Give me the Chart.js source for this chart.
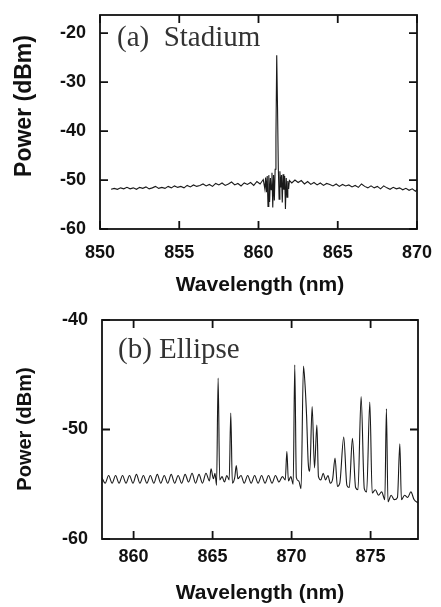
<!DOCTYPE html>
<html lang="en">
<head>
<meta charset="UTF-8">
<title>Stadium / Ellipse lasing spectra</title>
<style>
  body { margin: 0; background: #fff; }
  .panel { position: absolute; left: 0; width: 441px; }
</style>
</head>
<body>
<div class="panel" style="top:0;height:300px"><canvas id="chartA"></canvas></div>
<div class="panel" style="top:300px;height:307px"><canvas id="chartB"></canvas></div>

<script src="https://cdn.jsdelivr.net/npm/chart.js@4.4.0/dist/chart.umd.min.js"></script>
<script>
// (a) Stadium - wavelength (nm) / power (dBm)
const stadiumNm = [
  850.7, 850.9, 851.1, 851.3, 851.5, 851.7, 851.9, 852.1, 852.3, 852.5,
  852.7, 852.9, 853.1, 853.3, 853.5, 853.7, 853.9, 854.1, 854.3, 854.5,
  854.7, 854.9, 855.1, 855.3, 855.5, 855.7, 855.9, 856.1, 856.3, 856.5,
  856.7, 856.9, 857.1, 857.3, 857.5, 857.7, 857.9, 858.1, 858.3, 858.5,
  858.7, 858.9, 859.1, 859.3, 859.5, 859.7, 859.9, 860.1, 860.3,
  860.4, 860.45, 860.5, 860.55, 860.6, 860.65, 860.7, 860.75, 860.8, 860.85,
  860.9, 860.95, 861.0, 861.05, 861.1, 861.15, 861.2, 861.25, 861.3, 861.35,
  861.4, 861.45, 861.5, 861.55, 861.6, 861.65, 861.7, 861.75, 861.8, 861.85,
  861.9, 861.95,
  862.1, 862.3, 862.5, 862.7, 862.9, 863.1, 863.3, 863.5, 863.7, 863.9,
  864.1, 864.3, 864.5, 864.7, 864.9, 865.1, 865.3, 865.5, 865.7, 865.9,
  866.1, 866.3, 866.5, 866.7, 866.9, 867.1, 867.3, 867.5, 867.7, 867.9,
  868.1, 868.3, 868.5, 868.7, 868.9, 869.1, 869.3, 869.5, 869.7, 869.9, 870.0
];
const stadiumDbm = [
  -51.9, -51.7, -51.9, -51.6, -51.8, -51.5, -51.8, -51.6, -51.9, -51.5,
  -51.7, -51.4, -51.8, -51.6, -51.3, -51.7, -51.5, -51.7, -51.3, -51.6,
  -51.2, -51.5, -51.3, -51.6, -51.1, -51.4, -51.0, -51.3, -51.1, -50.8,
  -51.2, -50.9, -51.3, -50.7, -51.0, -50.6, -51.1, -50.8, -50.4, -51.0,
  -50.7, -51.2, -50.6, -50.9, -50.5, -51.1, -50.3, -50.8, -49.9,
  -51.8, -49.5, -52.5, -49.2, -55.4, -49.0, -54.5, -49.6, -52.0, -48.5,
  -55.6, -49.0, -54.2, -47.8, -41.2, -24.5, -35.1, -47.5, -53.9, -48.2,
  -51.5, -49.0, -54.6, -48.8, -52.0, -49.2, -55.9, -49.6, -53.5, -50.2,
  -51.8, -50.1,
  -50.6, -50.0, -50.5, -50.1, -50.8, -50.3, -50.9, -50.5, -51.0, -50.6,
  -51.1, -50.7, -50.9, -51.2, -50.8, -51.3, -50.9, -51.2, -51.0, -51.4,
  -51.1, -51.5, -50.8, -51.3, -51.6, -51.2, -51.6, -51.3, -51.8, -51.2,
  -51.6, -51.9, -51.5, -51.8, -51.6, -52.0, -51.7, -52.1, -51.8, -52.3, -51.9
];
const stadiumXTicks = [850, 855, 860, 865, 870];
const stadiumYTicks = [-60, -50, -40, -30, -20];

// (b) Ellipse
const ellipseNm = [
  858.0, 858.2, 858.42, 858.64, 858.86, 859.08, 859.3, 859.52, 859.74, 859.96,
  860.18, 860.4, 860.62, 860.84, 861.06, 861.28, 861.5, 861.72, 861.94, 862.16,
  862.38, 862.6, 862.82, 863.04, 863.26, 863.48, 863.7, 863.92, 864.14, 864.36,
  864.58, 864.8, 864.9, 865.05, 865.15, 865.25, 865.35, 865.45, 865.6, 865.75,
  865.9, 866.05, 866.15, 866.25, 866.4, 866.5, 866.6, 866.8, 867.0, 867.22,
  867.44, 867.66, 867.88, 868.1, 868.32, 868.54, 868.76, 868.98, 869.2, 869.42,
  869.6, 869.7, 869.8, 869.95, 870.1, 870.2, 870.3, 870.45, 870.6, 870.75,
  870.85, 870.95, 871.05, 871.15, 871.3, 871.45, 871.6, 871.7, 871.85, 872.0,
  872.15, 872.3, 872.45, 872.6, 872.75, 872.9, 873.05, 873.3, 873.5, 873.65,
  873.85, 874.05, 874.2, 874.4, 874.6, 874.75, 874.95, 875.1, 875.3, 875.5,
  875.7, 875.9, 876.0, 876.1, 876.3, 876.5, 876.7, 876.85, 876.95, 877.15,
  877.35, 877.55, 877.75, 878.0
];
const ellipseDbm = [
  -54.4, -54.9, -54.2, -54.9, -54.2, -54.9, -54.2, -54.9, -54.2, -54.9,
  -54.1, -54.9, -54.2, -54.9, -54.2, -54.9, -54.1, -54.9, -54.2, -54.9,
  -54.1, -54.9, -54.2, -54.9, -54.1, -54.8, -54.0, -54.9, -54.1, -54.9,
  -54.0, -54.7, -53.6, -54.5, -54.0, -55.1, -45.3, -54.6, -54.3, -54.8,
  -54.2, -54.6, -48.5, -54.9, -54.4, -53.3, -54.5, -54.2, -54.9, -54.2,
  -54.9, -54.2, -54.9, -54.2, -54.9, -54.2, -54.9, -54.2, -54.8, -54.3,
  -54.6, -52.0, -54.7, -54.3, -55.0, -44.1, -54.4, -54.7, -55.4, -44.2,
  -45.9, -48.8, -53.0, -53.8, -47.9, -53.5, -49.6, -54.3, -54.6, -54.0,
  -54.6, -54.2, -54.9, -54.5, -52.6, -55.2, -54.9, -50.7, -55.1, -55.3,
  -50.8, -55.3, -55.5, -47.0, -55.4, -55.7, -47.5, -55.8, -55.5, -56.0,
  -55.7, -56.4, -48.1, -56.6, -56.0, -56.4, -56.2, -51.3, -56.4, -56.0,
  -56.2, -55.7, -56.4, -56.7
];
const ellipseXTicks = [860, 865, 870, 875];
const ellipseYTicks = [-60, -50, -40];

const tickFont = { family: 'Liberation Sans, Arial, sans-serif', size: 18, weight: 'bold' };

// box round the plot, inward tick marks on all four sides, titles and panel name
const frame = {
  id: 'frame',
  afterDatasetsDraw(chart, args, o) {
    const { ctx, chartArea: a, scales: { x, y } } = chart;
    ctx.save();
    ctx.strokeStyle = '#111';
    ctx.lineWidth = 1.8;
    ctx.strokeRect(a.left, a.top, a.right - a.left, a.bottom - a.top);
    ctx.beginPath();
    o.xTicks.forEach(v => {
      const px = x.getPixelForValue(v);
      ctx.moveTo(px, a.bottom); ctx.lineTo(px, a.bottom - 8);
      ctx.moveTo(px, a.top); ctx.lineTo(px, a.top + 8);
    });
    o.yTicks.forEach(v => {
      const py = y.getPixelForValue(v);
      ctx.moveTo(a.left, py); ctx.lineTo(a.left + 8, py);
      ctx.moveTo(a.right, py); ctx.lineTo(a.right - 8, py);
    });
    ctx.stroke();

    ctx.fillStyle = '#111';
    ctx.textAlign = 'center';
    ctx.textBaseline = 'middle';
    ctx.font = 'bold 21px "Liberation Sans", Arial, sans-serif';
    ctx.fillText('Wavelength (nm)', o.xTitleX, o.xTitleY);
    ctx.save();
    ctx.translate(o.yTitleX, o.yTitleY);
    ctx.rotate(-Math.PI / 2);
    ctx.font = 'bold ' + o.yTitleSize + 'px "Liberation Sans", Arial, sans-serif';
    ctx.fillText('Power (dBm)', 0, 0);
    ctx.restore();

    ctx.fillStyle = '#333';
    ctx.textAlign = 'left';
    ctx.font = '29px "Liberation Serif", "Times New Roman", serif';
    ctx.fillText(o.name, o.nameX, o.nameY);
    ctx.restore();
  }
};

function makeChart(id, xs, ys, xr, yr, xTicks, yTicks, lay) {
  return new Chart(id, {
    type: 'line',
    data: {
      datasets: [{
        data: xs.map((v, i) => ({ x: v, y: ys[i] })),
        borderColor: '#1a1a1a',
        borderWidth: 1.1,
        pointRadius: 0,
        tension: 0,
        cubicInterpolationMode: lay.mono ? 'monotone' : 'default'
      }]
    },
    options: {
      responsive: true,
      maintainAspectRatio: false,
      animation: false,
      layout: { padding: { top: lay.top, right: lay.right, left: 0, bottom: 0 } },
      plugins: {
        legend: { display: false },
        tooltip: { enabled: false },
        frame: lay.frame
      },
      scales: {
        x: {
          type: 'linear', min: xr[0], max: xr[1],
          afterBuildTicks: s => { s.ticks = xTicks.map(v => ({ value: v })); },
          afterFit: s => { s.height = lay.xh; s.paddingLeft = 0; s.paddingRight = 0; },
          grid: { display: false, drawTicks: false },
          border: { display: false },
          ticks: { font: tickFont, color: '#111', padding: lay.xpad, maxRotation: 0 }
        },
        y: {
          type: 'linear', min: yr[0], max: yr[1],
          afterBuildTicks: s => { s.ticks = yTicks.map(v => ({ value: v })); },
          afterFit: s => { s.width = lay.yw; s.paddingTop = 0; s.paddingBottom = 0; },
          grid: { display: false, drawTicks: false },
          border: { display: false },
          ticks: { font: tickFont, color: '#111', padding: 14 }
        }
      }
    },
    plugins: [frame]
  });
}

makeChart('chartA', stadiumNm, stadiumDbm, [850, 870], [-60, -16.3], stadiumXTicks, stadiumYTicks, {
  top: 15, right: 24, yw: 100, xh: 71, xpad: 13, mono: false,
  frame: { xTicks: stadiumXTicks, yTicks: stadiumYTicks, xTitleX: 260, xTitleY: 285,
           yTitleX: 25, yTitleY: 106, yTitleSize: 23, name: '(a)  Stadium', nameX: 117, nameY: 38 }
});

makeChart('chartB', ellipseNm, ellipseDbm, [858, 878], [-60, -40], ellipseXTicks, ellipseYTicks, {
  top: 20, right: 23, yw: 102, xh: 68, xpad: 7, mono: true,
  frame: { xTicks: ellipseXTicks, yTicks: ellipseYTicks, xTitleX: 260, xTitleY: 293,
           yTitleX: 25, yTitleY: 129, yTitleSize: 20, name: '(b) Ellipse', nameX: 118, nameY: 50 }
});
</script>
</body>
</html>
